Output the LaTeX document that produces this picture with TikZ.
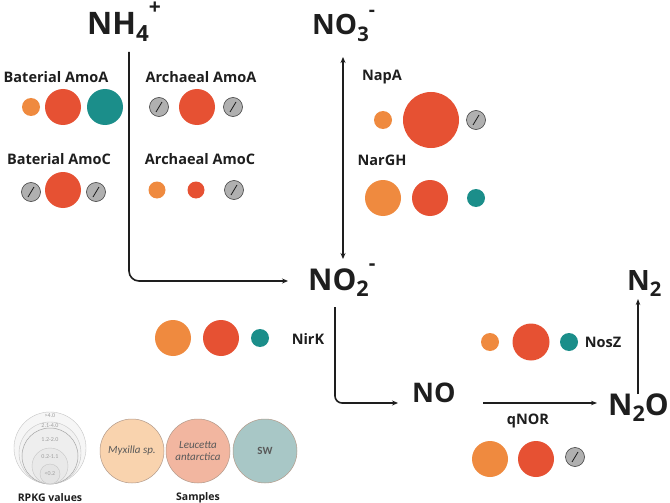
\documentclass[tikz,border=0pt]{standalone}
\usepackage{fontspec}
\setmainfont{Open Sans}
\newfontfamily\legfont{Carlito}
\usetikzlibrary{arrows.meta}
\definecolor{corange}{HTML}{EF8A3F}
\definecolor{cred}{HTML}{E65133}
\definecolor{cteal}{HTML}{1B8E8A}
\definecolor{cgray}{HTML}{B0B0B0}
\definecolor{ink}{HTML}{1E1E1E}
\definecolor{smyx}{HTML}{F9D3AE}
\definecolor{sleu}{HTML}{F2B6A0}
\definecolor{ssw}{HTML}{A8C7C6}
\definecolor{sline}{HTML}{B39A8A}
\newcommand\chsub[1]{\raisebox{-0.22em}{\scalebox{0.72}{#1}}}
\newcommand\chsup[1]{\raisebox{0.66em}{\scalebox{0.68}{#1}}}
\tikzset{
 dot/.style={circle, inner sep=0pt, minimum size=#1},
 og/.style={dot=#1, fill=corange},
 rd/.style={dot=#1, fill=cred},
 tl/.style={dot=#1, fill=cteal},
 nil/.style={dot=19, fill=cgray, draw=ink!85, line width=0.6pt,
   path picture={\draw[ink, line width=0.8pt]
     ([shift={(-3,5)}]path picture bounding box.center) --
     ([shift={(3,-5)}]path picture bounding box.center);}},
 gene/.style={font=\bfseries\fontsize{14.5}{14.5}\selectfont, text=ink, inner sep=0},
 chem/.style={font=\bfseries\fontsize{#1}{#1}\selectfont, text=ink, inner sep=0, anchor=base west},
 flow/.style={draw=ink, line width=1.6pt, -{Stealth[length=6pt,width=5pt]}},
 thin flow/.style={draw=ink, line width=1.1pt, -{Stealth[length=6pt,width=4.5pt]}},
 rpkg/.style={draw=gray!45, line width=0.4pt},
 rlab/.style={font=\legfont\fontsize{6}{6}\selectfont, text=gray!75, inner sep=0},
 sample/.style={circle, minimum size=64, inner sep=0pt, draw=sline, line width=0.5pt,
   font=\legfont\fontsize{11}{12.5}\selectfont, text=black!65, align=center},
 leglab/.style={font=\bfseries\fontsize{10.5}{10.5}\selectfont, text=ink, inner sep=0},
}
\begin{document}
\begin{tikzpicture}[x=1pt,y=-1pt]
\useasboundingbox[fill=white] (0,0) rectangle (670,503);

% chemical species
\node[chem=31] (nh4) at (87,35) {NH\chsub{4}\chsup{+}};
\node[chem=28] (no3) at (312,35) {NO\chsub{3}\chsup{-}};
\node[chem=30] (no2) at (308,290) {NO\chsub{2}\chsup{-}};
\node[chem=27] (no) at (412,402) {NO};
\node[chem=30] (n2o) at (608,415) {N\chsub{2}O};
\node[chem=28] (n2) at (627,290) {N\chsub{2}};

% connectors
\coordinate (a1) at (129,52);
\coordinate (a2) at (288,281);
\draw[flow, rounded corners=10] (a1) |- (a2);
\coordinate (b1) at (343,57);
\coordinate (b2) at (343,259);
\draw[flow, {Stealth[length=6pt,width=5pt]}-{Stealth[length=6pt,width=5pt]}] (b1) -- (b2);
\coordinate (c1) at (335,307);
\coordinate (c2) at (398,403);
\draw[flow, rounded corners=7] (c1) |- (c2);
\coordinate (d1) at (483,403);
\coordinate (d2) at (597,403);
\draw[thin flow] (d1) -- (d2);
\coordinate (e1) at (638,394);
\coordinate (e2) at (638,299);
\draw[thin flow] (e1) -- (e2);

% Bacterial AmoA
\node[gene] (bama) at (56,77) {Baterial AmoA};
\node[og=18] (bama1) at (31,107) {};
\node[rd=36] (bama2) at (63,107) {};
\node[tl=36] (bama3) at (105,107) {};
% Archaeal AmoA
\node[gene] (aama) at (201,77) {Archaeal AmoA};
\node[nil] (aama1) at (159,107) {};
\node[rd=36] (aama2) at (197,107) {};
\node[nil] (aama3) at (233,107) {};
% Bacterial AmoC
\node[gene] (bamc) at (59,159) {Baterial AmoC};
\node[nil] (bamc1) at (31,192) {};
\node[rd=36] (bamc2) at (63,190) {};
\node[nil] (bamc3) at (96,192) {};
% Archaeal AmoC
\node[gene] (aamc) at (200,159) {Archaeal AmoC};
\node[og=17] (aamc1) at (157,190) {};
\node[rd=17] (aamc2) at (196,190) {};
\node[nil] (aamc3) at (234,190) {};
% NapA
\node[gene] (napa) at (382,77) {NapA};
\node[og=18] (napa1) at (383,120) {};
\node[rd=56] (napa2) at (431,120) {};
\node[nil] (napa3) at (476,120) {};
% NarGH
\node[gene] (nargh) at (382,160) {NarGH};
\node[og=36] (nargh1) at (383,198) {};
\node[rd=36] (nargh2) at (430,198) {};
\node[tl=18] (nargh3) at (476,198) {};
% NirK
\node[gene] (nirk) at (308,339) {NirK};
\node[og=36] (nirk1) at (173,338) {};
\node[rd=36] (nirk2) at (221,338) {};
\node[tl=18] (nirk3) at (260,338) {};
% NosZ
\node[gene] (nosz) at (603,342) {NosZ};
\node[og=18] (nosz1) at (490,342) {};
\node[rd=37] (nosz2) at (531,342) {};
\node[tl=18] (nosz3) at (569,342) {};
% qNOR
\node[gene] (qnor) at (528,421) {qNOR};
\node[og=36] (qnor1) at (490,459) {};
\node[rd=36] (qnor2) at (536,459) {};
\node[nil] (qnor3) at (575,457) {};

% legend: RPKG values
\filldraw[rpkg, fill=gray!7] (50,448) circle (36);
\filldraw[rpkg, fill=gray!10] (50,453) circle (31);
\filldraw[draw=gray!70, line width=0.5pt, fill=gray!13] (50,456) circle (28);
\filldraw[rpkg, fill=gray!17] (50,466) circle (18);
\filldraw[rpkg, fill=gray!21] (50,474) circle (10);
\node[rlab] (r1) at (50,416) {>4.0};
\node[rlab] (r2) at (50,426) {2.1-4.0};
\node[rlab] (r3) at (50,440) {1.2-2.0};
\node[rlab] (r4) at (50,457) {0.2-1.1};
\node[rlab] (r5) at (50,474) {<0.2};
\node[leglab] (rpkgl) at (50,498) {RPKG values};

% legend: samples
\node[sample, fill=smyx] (myx) at (132,451) {\itshape Myxilla sp.};
\node[sample, fill=sleu] (leu) at (198,451) {\itshape Leucetta\\\itshape antarctica};
\node[sample, fill=ssw] (sw) at (265,451) {\bfseries SW};
\node[leglab] (saml) at (198,498) {Samples};
\end{tikzpicture}
\end{document}
